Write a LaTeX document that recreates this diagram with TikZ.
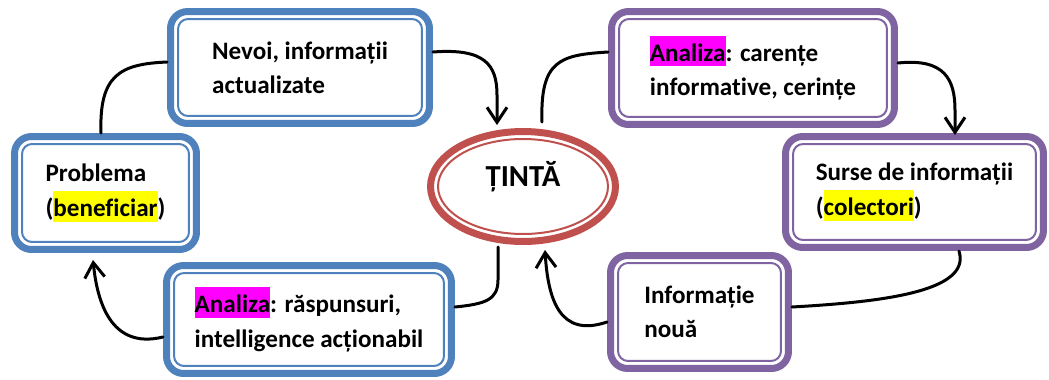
\documentclass[tikz,border=0pt]{standalone}
\usepackage{fontspec}
\setmainfont{Carlito}[Ligatures=NoCommon]
\usetikzlibrary{shapes.geometric,arrows.meta}

\definecolor{boxblue}{HTML}{4F81BD}
\definecolor{boxpurple}{HTML}{8064A2}
\definecolor{ringred}{HTML}{C0504D}
\definecolor{hlpink}{HTML}{FF00FF}
\definecolor{hlyellow}{HTML}{FFFF00}

% marker behind a word
\newcommand{\hlbox}[2]{{\setlength{\fboxsep}{0pt}\colorbox{#1}{\rule[-0.21em]{0pt}{1.22em}#2}}}

\begin{document}
\begin{tikzpicture}[x=0.02cm, y=-0.02cm,
  txt/.style={font=\bfseries\fontsize{14.3pt}{19.6pt}\selectfont, align=left},
  card/.style={txt, draw=#1, line width=0.14cm, fill=white, rounded corners=0.34cm, inner sep=0pt,
    path picture={\draw[#1, line width=0.04cm, rounded corners=0.2cm]
      ([shift={(0.15cm,-0.15cm)}]path picture bounding box.north west) rectangle
      ([shift={(-0.15cm,0.15cm)}]path picture bounding box.south east);}},
  link/.style={line width=0.06cm, line cap=round},
  tip/.style={link, -{Straight Barb[length=0.3cm, width=0.4cm]}}
]
\useasboundingbox (0,0) rectangle (1049,379);

% ============================
% Boxes
% ============================
\node[card=boxblue, minimum width=5.18cm, minimum height=2.24cm] (nevoi) at (300,67.5)
  {Nevoi, informații\\actualizate};
\node[card=boxblue, minimum width=3.64cm, minimum height=2.26cm] (problema) at (105.5,193)
  {Problema\\(\hlbox{hlyellow}{beneficiar})};
\node[card=boxblue, minimum width=5.70cm, minimum height=2.16cm] (raspuns) at (309,319.5)
  {\hlbox{hlpink}{Analiza}: răspunsuri,\\intelligence acționabil};
\node[card=boxpurple, minimum width=5.66cm, minimum height=2.26cm] (carente) at (753,68)
  {\hlbox{hlpink}{Analiza}: carențe\\informative, cerințe};
\node[card=boxpurple, minimum width=5.16cm, minimum height=2.22cm] (surse) at (914.5,192)
  {Surse de informații\\(\hlbox{hlyellow}{colectori})};
\node[card=boxpurple, minimum width=3.56cm, minimum height=2.26cm] (noua) at (699.5,312)
  {Informație\\nouă};

% Target in the middle
\node[txt, font=\bfseries\fontsize{17.4pt}{20pt}\selectfont, ellipse, draw=ringred,
  line width=0.14cm, fill=white, inner sep=0pt,
  minimum width=3.70cm, minimum height=2.20cm, text height=0.3cm, text depth=0.3cm,
  path picture={\draw[ringred, line width=0.04cm]
    (path picture bounding box.center) ellipse [x radius=1.70cm, y radius=0.95cm];}]
  (tinta) at (523,186.5) {ȚINTĂ};

% ============================
% Left loop
% ============================
\draw[link] ([xshift=-0.09cm]problema.north)
  .. controls (99,75) and (120,64) .. ([yshift=0.11cm]nevoi.west);
\draw[tip] ([yshift=0.31cm]nevoi.east)
  .. controls (485,48) and (497,65) .. (497,95)
  -- ([xshift=-0.52cm, yshift=0.06cm]tinta.north);

\draw[link] ([xshift=-0.5cm, yshift=-0.04cm]tinta.south) -- (498,280)
  .. controls (498,300) and (485,304) .. ([yshift=0.25cm]raspuns.east);
\draw[tip] ([yshift=-0.35cm]raspuns.west)
  .. controls (110,350) and (97,300) .. ([shift={(-0.25cm,-0.14cm)}]problema.south);

% ============================
% Right loop
% ============================
\draw[link] ([xshift=0.38cm, yshift=0.12cm]tinta.north)
  .. controls (540,60) and (560,55) .. ([yshift=0.32cm]carente.west);
\draw[tip] ([yshift=0.1cm]carente.east)
  .. controls (945,58) and (955,80) .. (955,110)
  -- ([xshift=0.81cm, yshift=-0.04cm]surse.north);

\draw[link] ([xshift=0.89cm]surse.south)
  .. controls (972,292) and (880,302) .. ([yshift=0.1cm]noua.east);
\draw[tip] ([yshift=-0.2cm]noua.west)
  .. controls (560,338) and (548,300) .. ([xshift=0.44cm, yshift=-0.1cm]tinta.south);

\end{tikzpicture}
\end{document}
